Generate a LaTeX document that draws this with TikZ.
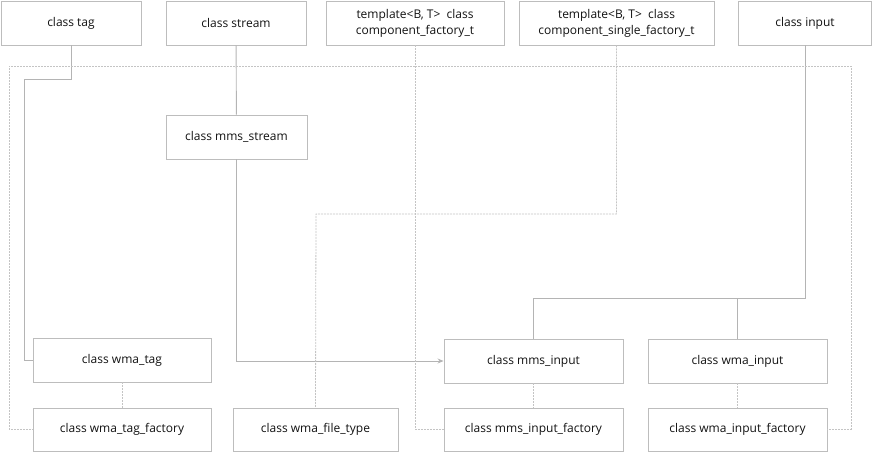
\documentclass[tikz,border=0pt]{standalone}
\usepackage{fontspec}
\setmainfont{Open Sans}
\usetikzlibrary{arrows.meta}
\definecolor{boxc}{HTML}{BDBDBD}
\definecolor{linec}{HTML}{B4B4B4}
\definecolor{dashc}{HTML}{C4C4C4}
\definecolor{txtc}{HTML}{111111}
\tikzset{
  cbox/.style={draw=boxc, line width=0.9pt, minimum height=44pt, inner sep=0pt, align=center, font=\fontsize{12}{16}\selectfont, text=txtc},
  sline/.style={draw=linec, line width=0.9pt},
  dline/.style={draw=dashc, line width=0.8pt, dash pattern=on 2pt off 1pt},
}
\begin{document}
\begin{tikzpicture}[x=1pt,y=-1pt]
\useasboundingbox (0,0) rectangle (873,453);
\node[cbox, minimum width=140pt] (tag) at (71,23) {class tag};
\node[cbox, minimum width=140pt] (stream) at (236,23) {class stream};
\node[cbox, minimum width=178pt] (cf) at (415,23) {template<B, T>\ \ class\\component\_factory\_t};
\node[cbox, minimum width=195pt] (csf) at (616.5,23) {template<B, T>\ \ class\\component\_single\_factory\_t};
\node[cbox, minimum width=133pt] (input) at (805,23) {class input};
\node[cbox, minimum width=141pt] (mstream) at (236.5,137) {class mms\_stream};
\node[cbox, minimum width=178pt] (wtag) at (122,360) {class wma\_tag};
\node[cbox, minimum width=178pt, minimum height=43pt] (wtagf) at (122,429.5) {class wma\_tag\_factory};
\node[cbox, minimum width=165pt, minimum height=43pt] (wft) at (315.5,429.5) {class wma\_file\_type};
\node[cbox, minimum width=179pt] (minput) at (533.5,361) {class mms\_input};
\node[cbox, minimum width=179pt] (winput) at (737.5,361) {class wma\_input};
\node[cbox, minimum width=179pt, minimum height=43pt] (minputf) at (533.5,429.5) {class mms\_input\_factory};
\node[cbox, minimum width=179pt, minimum height=43pt] (winputf) at (737.5,429.5) {class wma\_input\_factory};
% coordinates
\coordinate (t1) at (24,79);
\coordinate (ib) at (805,298);
\coordinate (bl) at (9,66);
\coordinate (br) at (851,66);
\coordinate (s1) at (316,214);
% solid connectors
\draw[sline] (tag.south) |- (t1) |- (wtag.west);
\draw[sline] (stream) -- (mstream);
\draw[sline, -{Stealth[length=6pt,width=5pt]}] (mstream.south) |- (minput.west);
\draw[sline] (input.south) -- (ib) -| (minput.north);
\draw[sline] (ib) -| (winput.north);
% dashed connectors
\draw[dline] (cf.south) |- (bl) |- (wtagf.west);
\draw[dline] (cf.south) |- (br) |- (winputf.east);
\draw[dline] (cf.south) |- (minputf.west);
\draw[dline] (csf.south) |- (s1) -- (wft.north);
\draw[dline] (wtag) -- (wtagf);
\draw[dline] (minput) -- (minputf);
\draw[dline] (winput) -- (winputf);
\end{tikzpicture}
\end{document}
